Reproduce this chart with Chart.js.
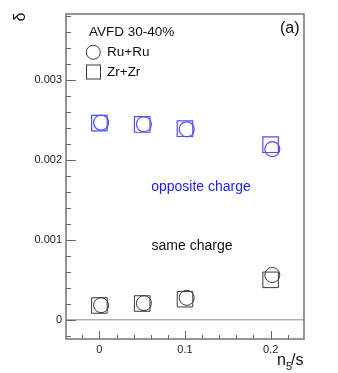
<!DOCTYPE html>
<html>
<head>
<meta charset="utf-8">
<script src="https://cdn.jsdelivr.net/npm/chart.js@4"></script>
<style>
  html, body { margin: 0; padding: 0; background: #fff; }
  #wrap { width: 338px; height: 373px; }
</style>
</head>
<body>
<div id="wrap"><canvas id="chart"></canvas></div>
<script>
// values
const xRu = [0.002, 0.052, 0.102, 0.202];
const xZr = [0, 0.05, 0.1, 0.2];
const ruOpposite = [0.002466, 0.002446, 0.002383, 0.002135];
const zrOpposite = [0.002460, 0.002443, 0.002390, 0.002190];
const ruSame = [0.000183, 0.000208, 0.000275, 0.000560];
const zrSame = [0.000179, 0.000204, 0.000258, 0.000500];

const xTicks = [0, 0.1, 0.2];
const xTickLabels = ['0', '0.1', '0.2'];
const yTicks = [0, 0.001, 0.002, 0.003];
const yTickLabels = ['0', '0.001', '0.002', '0.003'];

const BLUE = '#4f4fff';
const DARK = '#3a3a3a';
const FONT = '"Liberation Sans", Arial, sans-serif';

const pts = (xs, ys) => xs.map((x, i) => ({ x: x, y: ys[i] }));

const frame = {
  id: 'frame',
  afterDraw(chart) {
    const ctx = chart.ctx;
    const a = chart.chartArea;
    const sx = chart.scales.x, sy = chart.scales.y;
    ctx.save();

    // zero line
    const y0 = sy.getPixelForValue(0);
    ctx.strokeStyle = '#8a8a8a';
    ctx.lineWidth = 1;
    ctx.beginPath();
    ctx.moveTo(a.left, y0);
    ctx.lineTo(a.right, y0);
    ctx.stroke();

    // inward ticks on left and bottom
    ctx.strokeStyle = '#666';
    ctx.lineWidth = 1;
    ctx.beginPath();
    for (let k = -1; k <= 19; k++) {
      const v = k * 0.0002;
      if (v < sy.min || v > sy.max) continue;
      const p = Math.round(sy.getPixelForValue(v)) + 0.5;
      const len = k % 5 === 0 ? 10 : 5;
      ctx.moveTo(a.left, p);
      ctx.lineTo(a.left + len, p);
    }
    for (let k = -2; k <= 12; k++) {
      const v = k * 0.02;
      if (v < sx.min || v > sx.max) continue;
      const p = Math.round(sx.getPixelForValue(v)) + 0.5;
      const len = k % 5 === 0 ? 8 : 4;
      ctx.moveTo(p, a.bottom);
      ctx.lineTo(p, a.bottom - len);
    }
    ctx.stroke();

    // frame
    ctx.strokeStyle = '#7a7a7a';
    ctx.lineWidth = 1.6;
    ctx.strokeRect(a.left, a.top, a.right - a.left, a.bottom - a.top);

    // legend
    ctx.fillStyle = '#111';
    ctx.textBaseline = 'middle';
    ctx.textAlign = 'left';
    ctx.font = '13.5px ' + FONT;
    ctx.fillText('AVFD 30-40%', 89, 32);
    ctx.fillText('Ru+Ru', 107, 52.5);
    ctx.fillText('Zr+Zr', 107, 72);
    ctx.strokeStyle = DARK;
    ctx.lineWidth = 1;
    ctx.beginPath();
    ctx.arc(93.3, 52.3, 7, 0, Math.PI * 2);
    ctx.stroke();
    ctx.strokeRect(86.5, 65, 14, 14);

    ctx.font = '16px ' + FONT;
    ctx.textAlign = 'right';
    ctx.fillText('(a)', 299.5, 29);

    // annotations
    ctx.textAlign = 'center';
    ctx.font = '14px ' + FONT;
    ctx.fillStyle = '#1a1aff';
    ctx.fillText('opposite charge', 201, 187);
    ctx.fillStyle = '#111';
    ctx.fillText('same charge', 192, 246);

    // x axis title n_5/s
    ctx.textAlign = 'left';
    ctx.textBaseline = 'alphabetic';
    ctx.font = '16px ' + FONT;
    let x = 277;
    ctx.fillText('n', x, 365);
    x += ctx.measureText('n').width;
    ctx.font = '11px ' + FONT;
    ctx.fillText('5', x, 370);
    x += ctx.measureText('5').width - 1;
    ctx.font = '16px ' + FONT;
    ctx.fillText('/s', x, 365);

    // y axis title
    ctx.translate(21, 17);
    ctx.rotate(-Math.PI / 2);
    ctx.textAlign = 'center';
    ctx.textBaseline = 'middle';
    ctx.font = '16px ' + FONT;
    ctx.fillText('δ', 0, 0);
    ctx.restore();
  }
};

new Chart(document.getElementById('chart'), {
  type: 'scatter',
  data: {
    datasets: [
      {
        label: 'Zr+Zr opposite',
        data: pts(xZr, zrOpposite),
        pointStyle: 'rect',
        pointRadius: 11,
        borderColor: BLUE,
        backgroundColor: 'rgba(0,0,0,0)',
        borderWidth: 1.2
      },
      {
        label: 'Ru+Ru opposite',
        data: pts(xRu, ruOpposite),
        pointStyle: 'circle',
        pointRadius: 7.5,
        borderColor: BLUE,
        backgroundColor: 'rgba(0,0,0,0)',
        borderWidth: 1.2
      },
      {
        label: 'Zr+Zr same',
        data: pts(xZr, zrSame),
        pointStyle: 'rect',
        pointRadius: 11,
        borderColor: DARK,
        backgroundColor: 'rgba(0,0,0,0)',
        borderWidth: 1
      },
      {
        label: 'Ru+Ru same',
        data: pts(xRu, ruSame),
        pointStyle: 'circle',
        pointRadius: 7.5,
        borderColor: DARK,
        backgroundColor: 'rgba(0,0,0,0)',
        borderWidth: 1
      }
    ]
  },
  options: {
    responsive: true,
    maintainAspectRatio: false,
    animation: false,
    events: [],
    layout: { padding: { top: 14, right: 34, left: 0, bottom: 0 } },
    plugins: {
      legend: { display: false },
      tooltip: { enabled: false }
    },
    scales: {
      x: {
        type: 'linear',
        min: -0.039,
        max: 0.239,
        afterBuildTicks: s => { s.ticks = xTicks.map(v => ({ value: v })); },
        afterFit: s => { s.height = 34; },
        grid: { display: false, drawTicks: false },
        border: { display: false },
        ticks: {
          padding: 4,
          color: '#222',
          font: { family: FONT, size: 11 },
          callback: (v) => xTickLabels[xTicks.indexOf(v)]
        }
      },
      y: {
        type: 'linear',
        min: -0.00024,
        max: 0.003825,
        afterBuildTicks: s => { s.ticks = yTicks.map(v => ({ value: v })); },
        afterFit: s => { s.width = 66; },
        grid: { display: false, drawTicks: false },
        border: { display: false },
        ticks: {
          padding: 4,
          color: '#222',
          font: { family: FONT, size: 11 },
          callback: (v) => yTickLabels[yTicks.indexOf(v)]
        }
      }
    }
  },
  plugins: [frame]
});
</script>
</body>
</html>
